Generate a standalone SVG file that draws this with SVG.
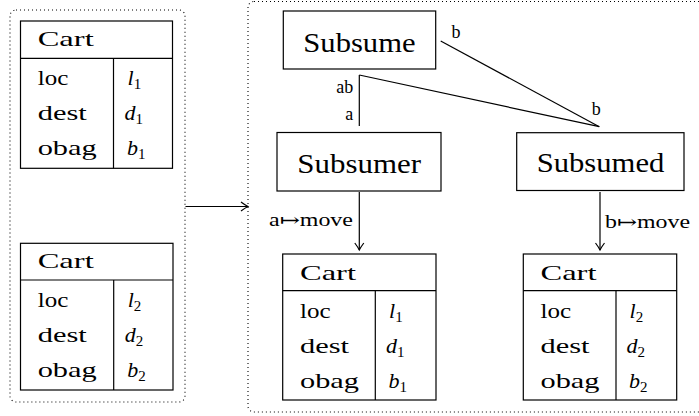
<svg xmlns="http://www.w3.org/2000/svg" width="699" height="416" viewBox="0 0 699 416" font-family="'Liberation Serif', 'DejaVu Serif', serif">
<style>
.tb{font-size:22px}
.nm{font-size:27px}
.lb{font-size:18px}
.v{font-size:22px;font-style:italic}
.sub{font-size:15px;font-style:normal}
.box{fill:#fff;stroke:#000;stroke-width:1.2}
.ln{fill:none;stroke:#000;stroke-width:1.2}
.dot{fill:none;stroke:#000;stroke-width:1.1;stroke-dasharray:1 3}
</style>
<defs>
<marker id="ah" markerUnits="userSpaceOnUse" markerWidth="14" markerHeight="14" refX="10" refY="7" orient="auto">
<path d="M3,2.5 Q7,5.5 10,7 Q7,8.5 3,11.5" fill="none" stroke="#000" stroke-width="1.2"/>
</marker>
</defs>

<g id="group-left">
<rect class="dot" x="10" y="10" width="175" height="392" rx="6"/>
</g>
<g id="group-right">
<rect class="dot" x="248" y="1.5" width="460" height="410.5" rx="6"/>
</g>

<g id="cart-left-1">
<rect class="box" x="20.5" y="21" width="152" height="147.3"/>
<line class="ln" x1="20.5" y1="58.3" x2="172.5" y2="58.3"/>
<line class="ln" x1="113.5" y1="58.3" x2="113.5" y2="168.3"/>
<text class="tb" x="37.7" y="45.7" textLength="56" lengthAdjust="spacingAndGlyphs">Cart</text>
<text class="tb" x="37.7" y="85" textLength="30.6" lengthAdjust="spacingAndGlyphs">loc</text>
<text class="tb" x="37.7" y="120" textLength="49" lengthAdjust="spacingAndGlyphs">dest</text>
<text class="tb" x="37.7" y="155" textLength="59" lengthAdjust="spacingAndGlyphs">obag</text>
<text class="v" x="127.5" y="85">l<tspan class="sub" dy="4">1</tspan></text>
<text class="v" x="124.5" y="120">d<tspan class="sub" dy="4">1</tspan></text>
<text class="v" x="127" y="155">b<tspan class="sub" dy="4">1</tspan></text>
</g>

<g id="cart-left-2">
<rect class="box" x="20.5" y="243.3" width="152.5" height="146.7"/>
<line class="ln" x1="20.5" y1="280" x2="173" y2="280"/>
<line class="ln" x1="113.7" y1="280" x2="113.7" y2="390"/>
<text class="tb" x="37.7" y="268.3" textLength="56" lengthAdjust="spacingAndGlyphs">Cart</text>
<text class="tb" x="37.7" y="307" textLength="30.6" lengthAdjust="spacingAndGlyphs">loc</text>
<text class="tb" x="37.7" y="342" textLength="49" lengthAdjust="spacingAndGlyphs">dest</text>
<text class="tb" x="37.7" y="377" textLength="59" lengthAdjust="spacingAndGlyphs">obag</text>
<text class="v" x="127.7" y="307">l<tspan class="sub" dy="4">2</tspan></text>
<text class="v" x="124.7" y="342">d<tspan class="sub" dy="4">2</tspan></text>
<text class="v" x="127.2" y="377">b<tspan class="sub" dy="4">2</tspan></text>
</g>

<g id="subsume">
<rect class="box" x="283.3" y="11" width="152.4" height="58"/>
<text class="nm" x="303.3" y="51.7" textLength="112.3" lengthAdjust="spacingAndGlyphs">Subsume</text>
</g>

<g id="subsumer">
<rect class="box" x="277" y="132.5" width="164" height="58.5"/>
<text class="nm" x="297.3" y="173" textLength="123.7" lengthAdjust="spacingAndGlyphs">Subsumer</text>
</g>

<g id="subsumed">
<rect class="box" x="516.7" y="132.7" width="167.3" height="57.8"/>
<text class="nm" x="536.7" y="171.7" textLength="127.6" lengthAdjust="spacingAndGlyphs">Subsumed</text>
</g>

<g id="cart-right-1">
<rect class="box" x="282.7" y="254" width="153.3" height="146"/>
<line class="ln" x1="282.7" y1="290.7" x2="436" y2="290.7"/>
<line class="ln" x1="375.3" y1="290.7" x2="375.3" y2="400"/>
<text class="tb" x="300" y="279.5" textLength="56" lengthAdjust="spacingAndGlyphs">Cart</text>
<text class="tb" x="300" y="317.5" textLength="30.6" lengthAdjust="spacingAndGlyphs">loc</text>
<text class="tb" x="300" y="352.5" textLength="49" lengthAdjust="spacingAndGlyphs">dest</text>
<text class="tb" x="300" y="387.5" textLength="59" lengthAdjust="spacingAndGlyphs">obag</text>
<text class="v" x="389" y="317.5">l<tspan class="sub" dy="4">1</tspan></text>
<text class="v" x="386" y="352.5">d<tspan class="sub" dy="4">1</tspan></text>
<text class="v" x="388.5" y="387.5">b<tspan class="sub" dy="4">1</tspan></text>
</g>

<g id="cart-right-2">
<rect class="box" x="523.3" y="254" width="153.4" height="146"/>
<line class="ln" x1="523.3" y1="290.7" x2="676.7" y2="290.7"/>
<line class="ln" x1="616" y1="290.7" x2="616" y2="400"/>
<text class="tb" x="540.5" y="279.5" textLength="56" lengthAdjust="spacingAndGlyphs">Cart</text>
<text class="tb" x="540.5" y="317.5" textLength="30.6" lengthAdjust="spacingAndGlyphs">loc</text>
<text class="tb" x="540.5" y="352.5" textLength="49" lengthAdjust="spacingAndGlyphs">dest</text>
<text class="tb" x="540.5" y="387.5" textLength="59" lengthAdjust="spacingAndGlyphs">obag</text>
<text class="v" x="629.5" y="317.5">l<tspan class="sub" dy="4">2</tspan></text>
<text class="v" x="626.5" y="352.5">d<tspan class="sub" dy="4">2</tspan></text>
<text class="v" x="629" y="387.5">b<tspan class="sub" dy="4">2</tspan></text>
</g>

<g id="connectors">
<line class="ln" x1="185.5" y1="206.5" x2="248" y2="206.5" marker-end="url(#ah)"/>
<line class="ln" x1="359.3" y1="75" x2="359.3" y2="126"/>
<line class="ln" x1="359.3" y1="75" x2="599.3" y2="126.7"/>
<line class="ln" x1="440.7" y1="41" x2="599.3" y2="126.7"/>
<line class="ln" x1="359.3" y1="192" x2="359.3" y2="250" marker-end="url(#ah)"/>
<line class="ln" x1="600" y1="192" x2="600" y2="250" marker-end="url(#ah)"/>
<text class="lb" x="353.3" y="93.3" text-anchor="end">ab</text>
<text class="lb" x="353.3" y="120" text-anchor="end">a</text>
<text class="lb" x="451.5" y="38">b</text>
<text class="lb" x="591.7" y="115">b</text>
<text class="lb" x="353" y="226" text-anchor="end" textLength="84" lengthAdjust="spacingAndGlyphs">a↦move</text>
<text class="lb" x="605" y="227.5" textLength="85" lengthAdjust="spacingAndGlyphs">b↦move</text>
</g>
</svg>
